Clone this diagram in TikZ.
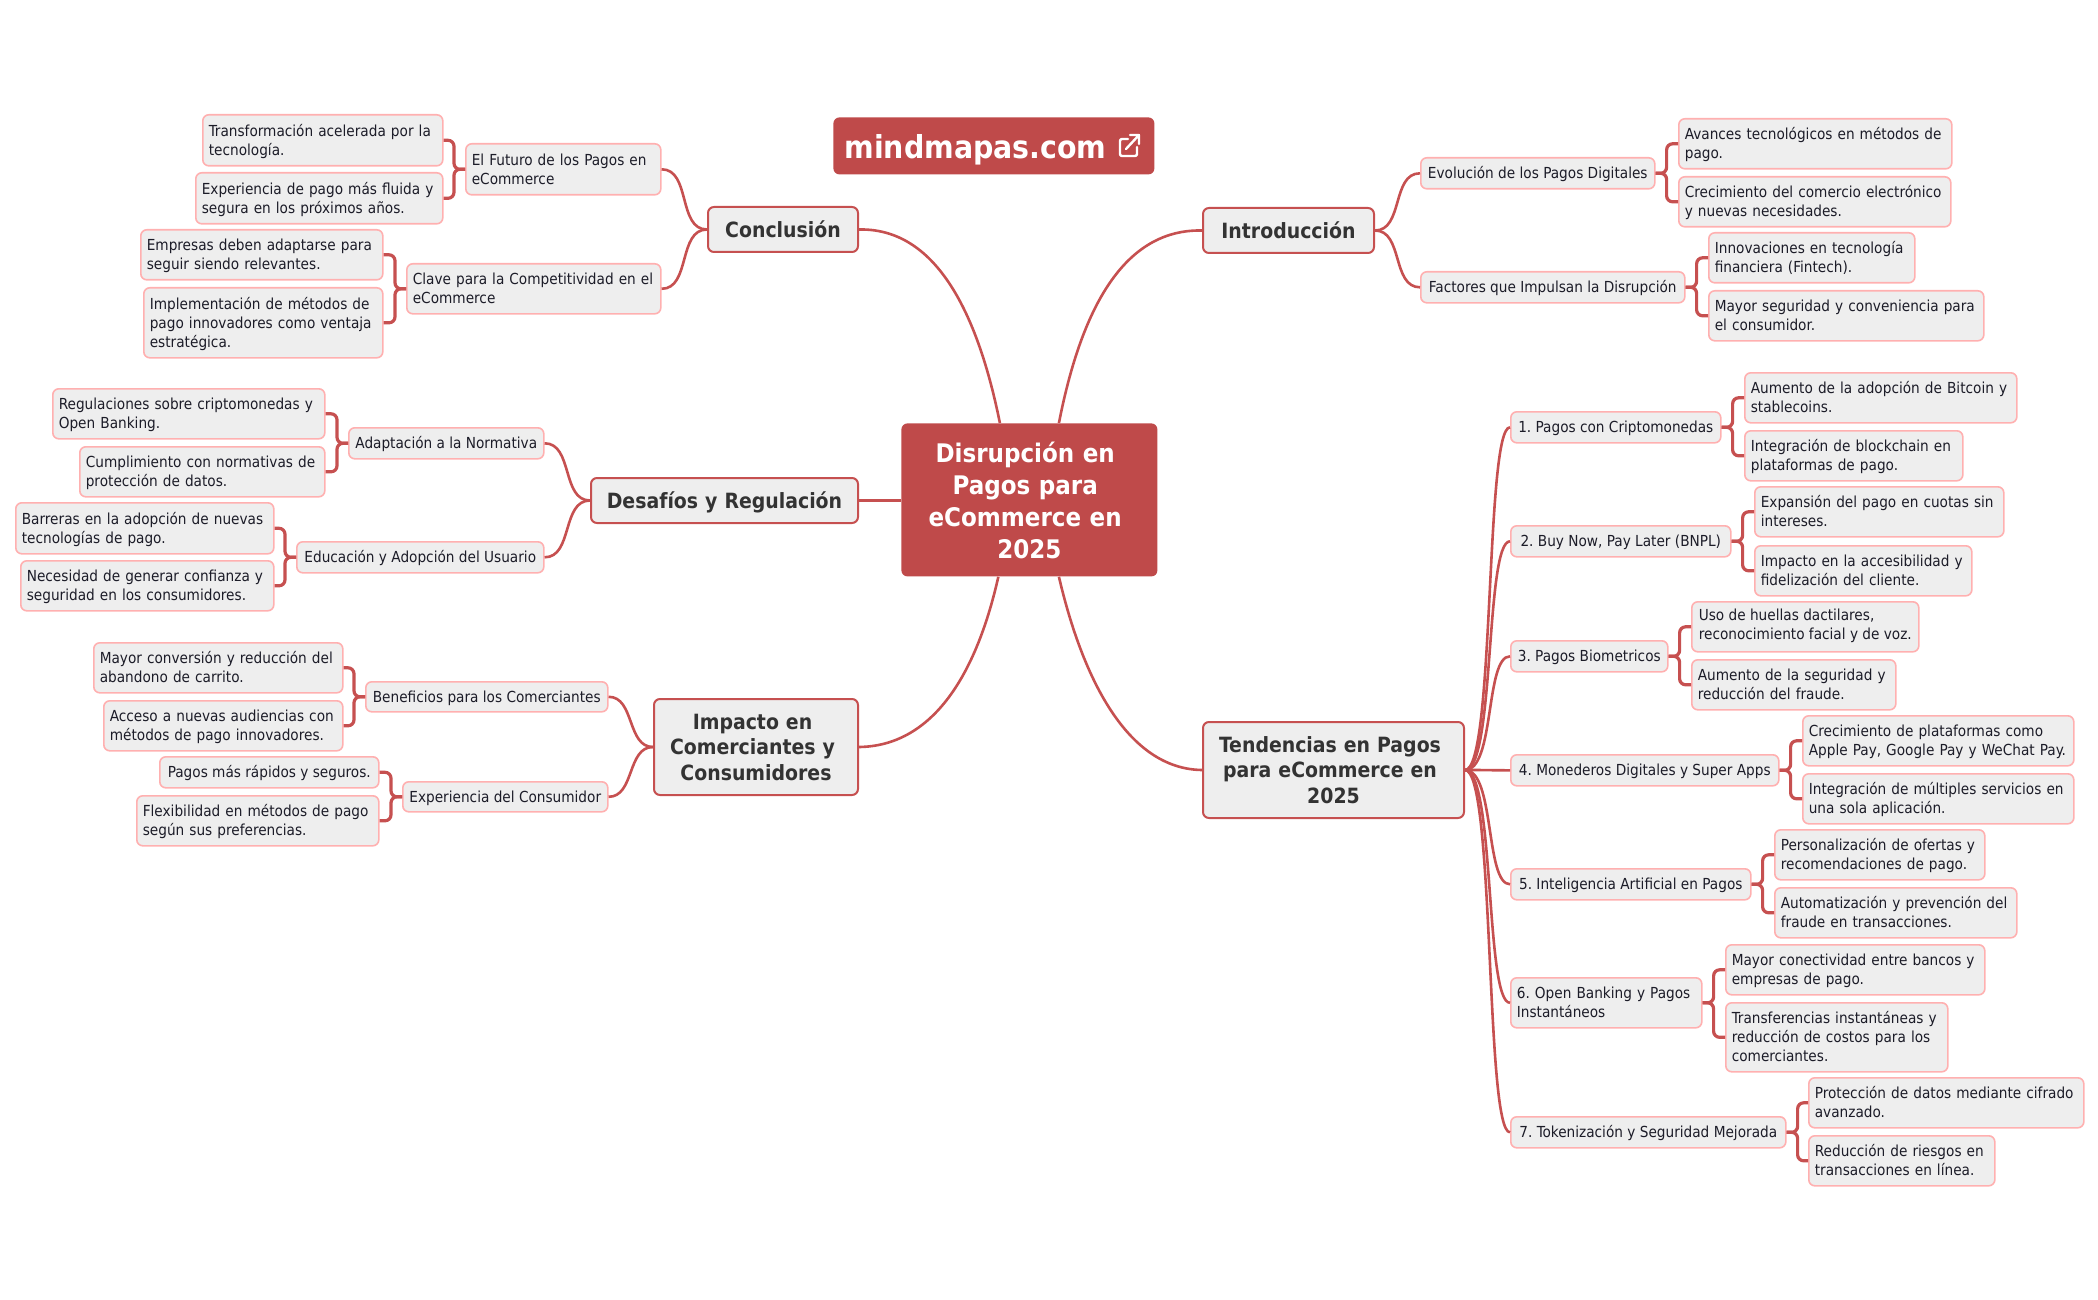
\documentclass[tikz,border=0pt]{standalone}
\usepackage{fontspec}
\usepackage{xcolor}
\setmainfont{DejaVu Sans Condensed}
\definecolor{mapred}{HTML}{BF4A4A}
\definecolor{mapline}{HTML}{C65050}
\definecolor{leafline}{HTML}{FFB0B0}
\definecolor{boxfill}{HTML}{EEEEEE}
\definecolor{headtext}{HTML}{333333}
\definecolor{leaftext}{HTML}{1C1C28}
\newcommand{\linegap}{\kern0.33em\\}
\newcommand{\topstrut}[1]{\rule{0pt}{\dimexpr0.7\baselineskip+#1\relax}}
\tikzset{
  leaf/.style 2 args={anchor=north west, draw=leafline, line width=0.8pt, fill=boxfill,
    rounded corners=3pt, inner xsep=3pt, inner ysep=0pt, align=left, text=leaftext,
    font=\fontsize{7.6}{9.5}\selectfont\frenchspacing, minimum width=#1*0.5pt, minimum height=#2*0.5pt,
    text width=\dimexpr#1pt/2-6pt\relax, execute at begin node=\topstrut{1.7pt}, execute at end node=\strut},
  sub/.style 2 args={leaf={#1}{#2}, text width=, inner xsep=1pt},
  head/.style 2 args={anchor=north west, draw=mapline, line width=1pt, fill=boxfill,
    rounded corners=3pt, inner xsep=2pt, inner ysep=0pt, align=center, text=headtext,
    font=\bfseries\fontsize{10.5}{12.8}\selectfont, minimum width=#1*0.5pt, minimum height=#2*0.5pt,
    text width=\dimexpr#1pt/2-4pt\relax, execute at begin node=\topstrut{2.7pt}, execute at end node=\strut},
  bigbox/.style 2 args={anchor=north west, fill=mapred, rounded corners=3pt, inner xsep=3pt,
    inner ysep=0pt, align=center, text=white, minimum width=#1*0.5pt, minimum height=#2*0.5pt,
    text width=\dimexpr#1pt/2-6pt\relax, execute at begin node=\topstrut{4pt}, execute at end node=\strut},
  limb/.style={draw=mapline, line width=1.3pt},
  twig/.style={draw=mapline, line width=1.6pt, rounded corners=3pt}
}
\begin{document}
\begin{tikzpicture}[x=0.5pt,y=-0.5pt]
  \useasboundingbox (0,0) rectangle (2098,1300);

  % Center and link box
  \node[bigbox={256}{153}, font=\bfseries\fontsize{12.8}{16}\selectfont] (root) at (901,423) {Disrupción en\linegap Pagos para\linegap eCommerce en\linegap 2025};
  \node[bigbox={321}{57}, align=left, font=\bfseries\fontsize{15.8}{19}\selectfont] (link) at (833,117) {\hspace*{2.5pt}\raisebox{-0.5pt}[0pt][0pt]{mindmapas.com}};
  \draw[white, line width=1.2pt, line cap=round, line join=round, rounded corners=1pt]
    (1128,139) -- (1120,139) -- (1120,156) -- (1137,156) -- (1137,147);
  \draw[white, line width=1.2pt, line cap=round, line join=round]
    (1126,149) -- (1139,135) (1130,135) -- (1139,135) -- (1139,144);

  % Main topics
  \node[head={171}{45}] (intro) at (1202,207) {Introducción};
  \node[head={261}{96}] (tend) at (1202,721) {Tendencias en Pagos\linegap para eCommerce en\linegap 2025};
  \node[head={150}{45}] (concl) at (707,206) {Conclusión};
  \node[head={267}{45}] (desaf) at (590,477) {Desafíos y Regulación};
  \node[head={204}{96}] (impac) at (653,698) {Impacto en\linegap Comerciantes y\linegap Consumidores};

  % Right side, top
  \node[sub={234}{31}] (evol) at (1420,157) {Evolución de los Pagos Digitales};
  \node[sub={264}{31}] (fact) at (1420,271) {Factores que Impulsan la Disrupción};
  \node[leaf={273}{50}] (evolA) at (1678,118) {Avances tecnológicos en métodos de\\pago.};
  \node[leaf={272}{50}] (evolB) at (1678,176) {Crecimiento del comercio electrónico\\y nuevas necesidades.};
  \node[leaf={206}{50}] (factA) at (1708,232) {Innovaciones en tecnología\\financiera (Fintech).};
  \node[leaf={275}{50}] (factB) at (1708,290) {Mayor seguridad y conveniencia para\\el consumidor.};

  % Right side, trends
  \node[sub={210}{31}] (tr1) at (1510,411) {1. Pagos con Criptomonedas};
  \node[sub={220}{31}] (tr2) at (1510,525) {2. Buy Now, Pay Later (BNPL)};
  \node[sub={157}{31}] (tr3) at (1510,640) {3. Pagos Biometricos};
  \node[sub={268}{31}] (tr4) at (1510,754) {4. Monederos Digitales y Super Apps};
  \node[sub={240}{31}] (tr5) at (1510,868) {5. Inteligencia Artificial en Pagos};
  \node[leaf={191}{50}] (tr6) at (1510,977) {6. Open Banking y Pagos\\Instantáneos};
  \node[sub={275}{31}] (tr7) at (1510,1116) {7. Tokenización y Seguridad Mejorada};

  \node[leaf={272}{50}] (tr1A) at (1744,372) {Aumento de la adopción de Bitcoin y\\stablecoins.};
  \node[leaf={218}{50}] (tr1B) at (1744,430) {Integración de blockchain en\\plataformas de pago.};
  \node[leaf={249}{50}] (tr2A) at (1754,486) {Expansión del pago en cuotas sin\\intereses.};
  \node[leaf={217}{50}] (tr2B) at (1754,545) {Impacto en la accesibilidad y\\fidelización del cliente.};
  \node[sub={227}{50}] (tr3A) at (1691,601) {Uso de huellas dactilares,\\reconocimiento facial y de voz.};
  \node[leaf={204}{50}] (tr3B) at (1691,659) {Aumento de la seguridad y\\reducción del fraude.};
  \node[leaf={271}{50}] (tr4A) at (1802,715) {Crecimiento de plataformas como\\Apple Pay, Google Pay y WeChat Pay.};
  \node[leaf={271}{50}] (tr4B) at (1802,773) {Integración de múltiples servicios en\\una sola aplicación.};
  \node[leaf={210}{50}] (tr5A) at (1774,829) {Personalización de ofertas y\\recomendaciones de pago.};
  \node[leaf={242}{50}] (tr5B) at (1774,887) {Automatización y prevención del\\fraude en transacciones.};
  \node[leaf={259}{50}] (tr6A) at (1725,944) {Mayor conectividad entre bancos y\\empresas de pago.};
  \node[leaf={222}{69}] (tr6B) at (1725,1002) {Transferencias instantáneas y\\reducción de costos para los\\comerciantes.};
  \node[leaf={275}{50}] (tr7A) at (1808,1077) {Protección de datos mediante cifrado\\avanzado.};
  \node[leaf={186}{50}] (tr7B) at (1808,1135) {Reducción de riesgos en\\transacciones en línea.};

  % Left side
  \node[leaf={195}{51}] (futu) at (465,143) {El Futuro de los Pagos en\\eCommerce};
  \node[leaf={254}{50}] (clav) at (406,263) {Clave para la Competitividad en el\\eCommerce};
  \node[sub={195}{31}] (adap) at (348,427) {Adaptación a la Normativa};
  \node[sub={247}{31}] (educ) at (296,541) {Educación y Adopción del Usuario};
  \node[sub={242}{30}] (bene) at (365,681) {Beneficios para los Comerciantes};
  \node[sub={205}{30}] (expe) at (402,781) {Experiencia del Consumidor};

  \node[leaf={240}{51}] (futuA) at (202,114) {Transformación acelerada por la\\tecnología.};
  \node[leaf={247}{51}] (futuB) at (195,172) {Experiencia de pago más fluida y\\segura en los próximos años.};
  \node[leaf={242}{50}] (clavA) at (140,229) {Empresas deben adaptarse para\\seguir siendo relevantes.};
  \node[leaf={239}{70}] (clavB) at (143,287) {Implementación de métodos de\\pago innovadores como ventaja\\estratégica.};
  \node[leaf={272}{50}] (adapA) at (52,388) {Regulaciones sobre criptomonedas y\\Open Banking.};
  \node[leaf={245}{50}] (adapB) at (79,446) {Cumplimiento con normativas de\\protección de datos.};
  \node[leaf={258}{51}] (educA) at (15,502) {Barreras en la adopción de nuevas\\tecnologías de pago.};
  \node[leaf={253}{50}] (educB) at (20,560) {Necesidad de generar confianza y\\seguridad en los consumidores.};
  \node[leaf={249}{50}] (beneA) at (93,642) {Mayor conversión y reducción del\\abandono de carrito.};
  \node[leaf={239}{50}] (beneB) at (103,700) {Acceso a nuevas audiencias con\\métodos de pago innovadores.};
  \node[sub={219}{31}] (expeA) at (159,756) {Pagos más rápidos y seguros.};
  \node[leaf={242}{50}] (expeB) at (136,795) {Flexibilidad en métodos de pago\\según sus preferencias.};

  % Links from the center
  \draw[limb] (root.111) .. controls (975,300) and (930,228) .. (concl.east);
  \draw[limb] (root.69) .. controls (1083,300) and (1128,229) .. (intro.west);
  \draw[limb] (root.248) .. controls (975,680) and (930,746) .. (impac.east);
  \draw[limb] (root.291) .. controls (1083,680) and (1128,769) .. (tend.west);
  \draw[limb] (root.west |- desaf.east) -- (desaf.east);

  % Links to the second level
  \draw[limb] (intro.east) to[out=0,in=180] (evol.west);
  \draw[limb] (intro.east) to[out=0,in=180] (fact.west);
  \draw[limb] (concl.west) to[out=180,in=0] (futu.east);
  \draw[limb] (concl.west) to[out=180,in=0] (clav.east);
  \draw[limb] (desaf.west) to[out=180,in=0] (adap.east);
  \draw[limb] (desaf.west) to[out=180,in=0] (educ.east);
  \draw[limb] (impac.west) to[out=180,in=0] (bene.east);
  \draw[limb] (impac.west) to[out=180,in=0] (expe.east);
  \foreach \tr in {tr1,tr2,tr3,tr4,tr5,tr6,tr7}
    \draw[limb] (tend.east) .. controls +(30,0) and +(-25,0) .. (\tr.west);

  % Brackets to the leaves
  \foreach \sub in {evol,fact,tr1,tr2,tr3,tr4,tr5,tr6,tr7}{
    \draw[twig] (\sub.east) -- ++(11,0) |- (\sub A.west);
    \draw[twig] (\sub.east) -- ++(11,0) |- (\sub B.west);
  }
  \foreach \sub in {futu,clav,adap,educ,bene,expe}{
    \draw[twig] (\sub.west) -- ++(-11,0) |- (\sub A.east);
    \draw[twig] (\sub.west) -- ++(-11,0) |- (\sub B.east);
  }
\end{tikzpicture}
\end{document}
